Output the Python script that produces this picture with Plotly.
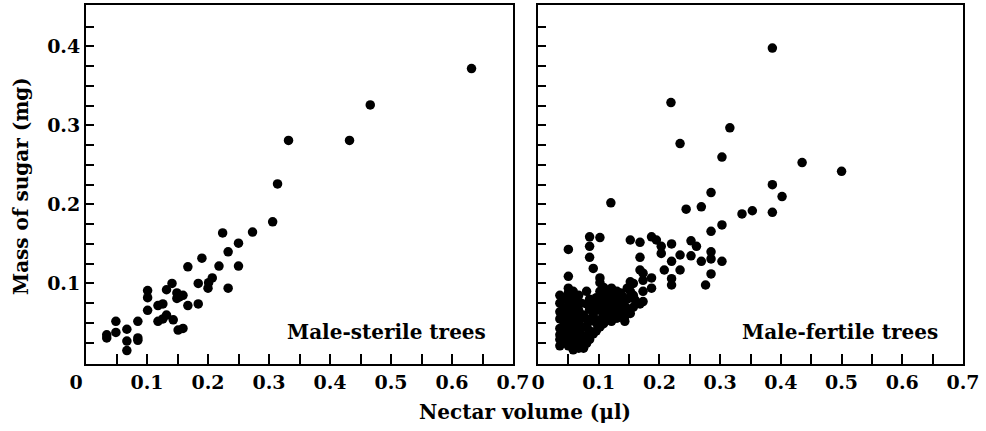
import plotly.graph_objects as go

# Male-sterile trees (nectar volume in µl, sugar mass in mg)
sterile_x = [0.632, 0.466, 0.432, 0.332, 0.314, 0.306, 0.273, 0.224, 0.250, 0.233,
             0.218, 0.250, 0.233, 0.190, 0.167, 0.184, 0.207, 0.201, 0.200, 0.184,
             0.167, 0.141, 0.132, 0.149, 0.159, 0.149, 0.153, 0.126, 0.118, 0.132,
             0.143, 0.126, 0.118, 0.159, 0.151, 0.101, 0.101, 0.101, 0.085, 0.085,
             0.085, 0.067, 0.067, 0.067, 0.049, 0.049, 0.034, 0.034]
sterile_y = [0.372, 0.326, 0.281, 0.281, 0.226, 0.178, 0.165, 0.164, 0.151, 0.140,
             0.122, 0.122, 0.094, 0.132, 0.121, 0.100, 0.107, 0.101, 0.094, 0.074,
             0.072, 0.100, 0.092, 0.088, 0.085, 0.081, 0.083, 0.074, 0.072, 0.060,
             0.054, 0.055, 0.052, 0.043, 0.041, 0.091, 0.082, 0.066, 0.052, 0.031,
             0.028, 0.042, 0.027, 0.015, 0.052, 0.038, 0.035, 0.031]

# Male-fertile trees
fertile_x = [0.036, 0.036, 0.036, 0.036, 0.036, 0.036, 0.036, 0.036,
             0.043, 0.043, 0.043, 0.043, 0.043, 0.043,
             0.050, 0.050, 0.050, 0.050, 0.050, 0.050, 0.050, 0.050, 0.050, 0.050, 0.050, 0.050,
             0.058, 0.058, 0.058, 0.058, 0.058, 0.058, 0.058, 0.058, 0.058,
             0.063, 0.063, 0.063, 0.063, 0.063, 0.063,
             0.067, 0.067, 0.067, 0.067, 0.067, 0.067,
             0.071, 0.071, 0.071, 0.071,
             0.075, 0.075, 0.075, 0.075,
             0.080, 0.080, 0.080, 0.080, 0.080, 0.080,
             0.085, 0.085, 0.085, 0.085, 0.085, 0.085, 0.085, 0.085,
             0.091, 0.091, 0.091, 0.091,
             0.096, 0.096, 0.096, 0.096,
             0.102, 0.102, 0.102, 0.102, 0.102, 0.102, 0.102, 0.102,
             0.108, 0.108, 0.108, 0.108, 0.108,
             0.113, 0.113, 0.113,
             0.117, 0.117, 0.117, 0.117,
             0.121, 0.121, 0.121, 0.121, 0.121,
             0.126, 0.126, 0.126,
             0.130, 0.130, 0.130, 0.130,
             0.136, 0.136, 0.136,
             0.140, 0.140, 0.140,
             0.143, 0.143, 0.143,
             0.147, 0.147, 0.147,
             0.152, 0.152, 0.152, 0.152,
             0.157, 0.157, 0.157,
             0.160,
             0.168, 0.168, 0.168, 0.168,
             0.173, 0.173, 0.173, 0.173,
             0.187, 0.187, 0.187,
             0.195, 0.203, 0.203, 0.208,
             0.220, 0.220, 0.220, 0.220,
             0.219, 0.234, 0.234, 0.234,
             0.244, 0.252, 0.252, 0.261,
             0.269, 0.269, 0.276,
             0.285, 0.285, 0.285, 0.285, 0.285,
             0.303, 0.303, 0.303, 0.316,
             0.336, 0.353, 0.386, 0.386, 0.386,
             0.402, 0.435, 0.500, 0.120]
fertile_y = [0.085, 0.075, 0.064, 0.055, 0.043, 0.035, 0.029, 0.021,
             0.080, 0.068, 0.058, 0.048, 0.038, 0.027,
             0.143, 0.109, 0.094, 0.088, 0.080, 0.072, 0.063, 0.055, 0.047, 0.038, 0.030, 0.021,
             0.090, 0.077, 0.068, 0.060, 0.050, 0.041, 0.032, 0.024, 0.016,
             0.083, 0.072, 0.045, 0.036, 0.026, 0.020,
             0.085, 0.066, 0.052, 0.041, 0.030, 0.018,
             0.075, 0.058, 0.035, 0.025,
             0.060, 0.045, 0.024, 0.018,
             0.090, 0.074, 0.055, 0.045, 0.034, 0.024,
             0.159, 0.147, 0.133, 0.080, 0.067, 0.052, 0.040, 0.029,
             0.119, 0.072, 0.060, 0.036,
             0.082, 0.070, 0.050, 0.040,
             0.158, 0.107, 0.101, 0.090, 0.077, 0.066, 0.054, 0.045,
             0.095, 0.084, 0.071, 0.060, 0.049,
             0.080, 0.064, 0.055,
             0.088, 0.075, 0.065, 0.056,
             0.094, 0.082, 0.070, 0.060, 0.052,
             0.086, 0.072, 0.062,
             0.090, 0.077, 0.067, 0.056,
             0.088, 0.080, 0.064,
             0.083, 0.074, 0.066,
             0.052, 0.071, 0.058,
             0.094, 0.080, 0.068,
             0.155, 0.102, 0.090, 0.062,
             0.100, 0.085, 0.070,
             0.079,
             0.152, 0.133, 0.117, 0.074,
             0.113, 0.104, 0.090, 0.077,
             0.159, 0.107, 0.094,
             0.155, 0.147, 0.138, 0.117,
             0.150, 0.128, 0.106, 0.098,
             0.329, 0.277, 0.136, 0.117,
             0.194, 0.154, 0.135, 0.147,
             0.197, 0.128, 0.098,
             0.215, 0.166, 0.140, 0.131, 0.112,
             0.260, 0.174, 0.128, 0.297,
             0.188, 0.192, 0.398, 0.225, 0.190,
             0.210, 0.253, 0.242, 0.202]

x_tickvals = [0, 0.05, 0.1, 0.15, 0.2, 0.25, 0.3, 0.35, 0.4, 0.45, 0.5, 0.55, 0.6, 0.65, 0.7]
x_ticktext_left = ["0\u00a0\u00a0\u00a0", "", "0.1", "", "0.2", "", "0.3", "", "0.4", "",
                   "0.5", "", "0.6", "", "0.7"]
x_ticktext_right = ["0", "", "0.1", "", "0.2", "", "0.3", "", "0.4", "", "0.5", "", "0.6",
                    "", "0.7"]
y_tickvals = [0.025, 0.05, 0.075, 0.1, 0.125, 0.15, 0.175, 0.2, 0.225, 0.25, 0.275, 0.3,
              0.325, 0.35, 0.375, 0.4, 0.425]
y_ticktext = ["", "", "", "0.1", "", "", "", "0.2", "", "", "", "0.3", "", "", "", "0.4", ""]

FONT = "DejaVu Serif"
W, H = 986, 431
L, R, T, B = 86, 23, 5, 67
PW = W - L - R
PH = H - T - B

fig = go.Figure()
fig.add_trace(go.Scatter(x=sterile_x, y=sterile_y, mode="markers", xaxis="x", yaxis="y",
                         marker=dict(color="black", size=9.5), showlegend=False))
fig.add_trace(go.Scatter(x=fertile_x, y=fertile_y, mode="markers", xaxis="x2", yaxis="y2",
                         marker=dict(color="black", size=9.5), showlegend=False))

tfont = dict(family=FONT, size=19, color="black", weight="bold")
ax_common = dict(showline=True, linecolor="black", linewidth=2, mirror=True,
                 showgrid=False, zeroline=False, ticks="inside", tickcolor="black",
                 tickwidth=1.5, tickfont=tfont, automargin=False)

afont = dict(family=FONT, size=20, color="black", weight="bold")
fig.update_layout(
    width=W, height=H, margin=dict(l=L, r=R, t=T, b=B),
    paper_bgcolor="white", plot_bgcolor="white",
    xaxis=dict(domain=[0, (513 - L) / PW], range=[0, 0.7], tickvals=x_tickvals,
               ticktext=x_ticktext_left, ticklen=10, anchor="y", **ax_common),
    xaxis2=dict(domain=[(538 - L) / PW, 1], range=[0, 0.7], tickvals=x_tickvals,
                ticktext=x_ticktext_right, ticklen=10, anchor="y2", **ax_common),
    yaxis=dict(domain=[0, 1], range=[-0.002, 0.4525], tickvals=y_tickvals,
               ticktext=y_ticktext, ticklen=8, anchor="x", **ax_common),
    yaxis2=dict(domain=[0, 1], range=[-0.002, 0.4525], tickvals=y_tickvals,
                ticktext=y_ticktext, ticklen=8, anchor="x2", showticklabels=False,
                **ax_common),
    annotations=[
        dict(text="Male-sterile trees", xref="paper", yref="paper",
             x=(488 - L) / PW, y=(H - B - 332) / PH, xanchor="right",
             yanchor="middle", showarrow=False, font=afont),
        dict(text="Male-fertile trees", xref="paper", yref="paper",
             x=(940 - L) / PW, y=(H - B - 332) / PH, xanchor="right",
             yanchor="middle", showarrow=False, font=afont),
        dict(text="Mass of sugar (mg)", xref="paper", yref="paper",
             x=(21 - L) / PW, y=(H - B - 186) / PH, xanchor="center",
             yanchor="middle", textangle=-90, showarrow=False, font=afont),
        dict(text="Nectar volume (μl)", xref="paper", yref="paper",
             x=(525 - L) / PW, y=(H - B - 412) / PH, xanchor="center",
             yanchor="middle", showarrow=False, font=afont),
    ],
)

fig.write_html("out.html", config={"displayModeBar": False},
               post_script="document.body.style.margin='0px';document.body.style.overflow='hidden';")
